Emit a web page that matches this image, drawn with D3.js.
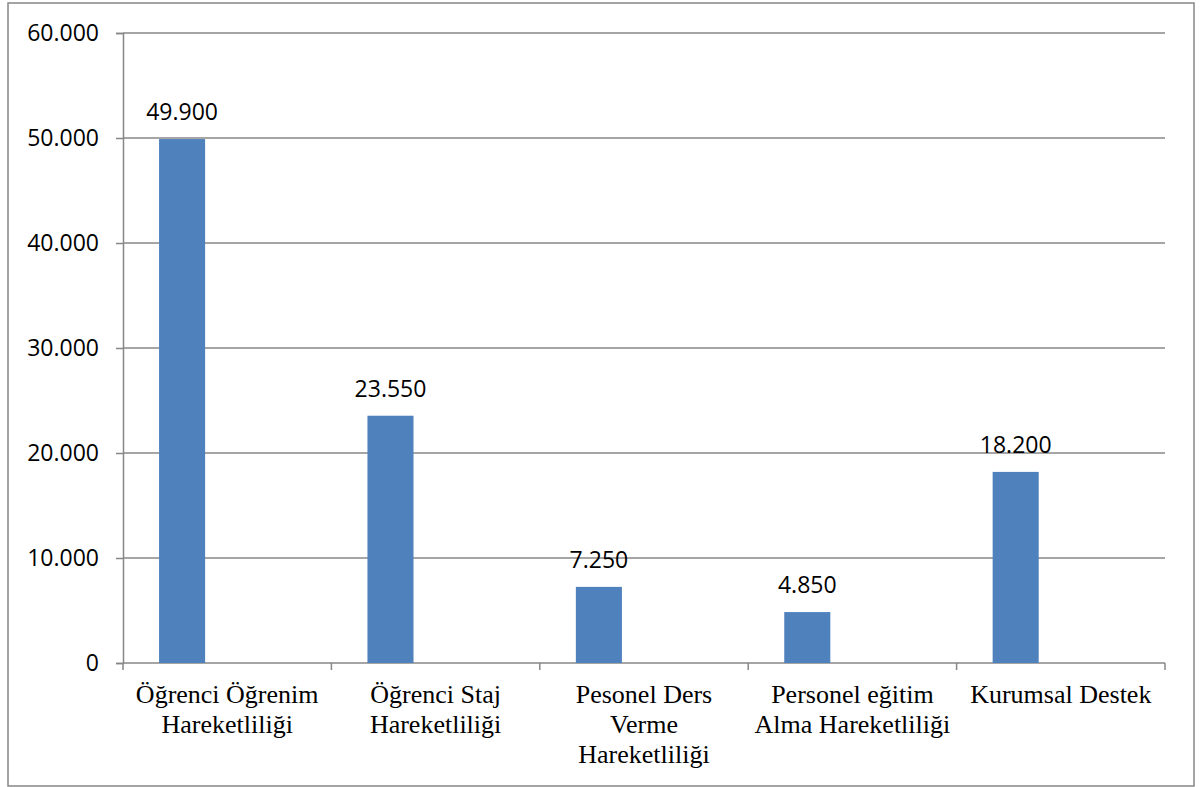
<!DOCTYPE html>
<html>
<head>
<meta charset="utf-8">
<script src="https://cdn.jsdelivr.net/npm/d3@7"></script>
<style>
  body { margin: 0; background: #fff; }
</style>
</head>
<body>
<div id="chart"></div>
<script>
// kategoriler ve değerler
const categories = [
  'Öğrenci Öğrenim Hareketliliği',
  'Öğrenci Staj Hareketliliği',
  'Pesonel Ders Verme Hareketliliği',
  'Personel eğitim Alma Hareketliliği',
  'Kurumsal Destek'
]
const values = [49900, 23550, 7250, 4850, 18200]
const yTicks = [0, 10000, 20000, 30000, 40000, 50000, 60000]

const width = 1200
const height = 787
const margin = { top: 33, right: 35, bottom: 124, left: 123 }

const svg = d3.select('#chart').append('svg')
  .attr('width', width)
  .attr('height', height)

// dış çerçeve
svg.append('rect')
  .attr('x', 8).attr('y', 3)
  .attr('width', 1186).attr('height', 783)
  .attr('fill', 'none')
  .attr('stroke', '#878787')
  .attr('stroke-width', 1.5)

const x = d3.scaleBand()
  .domain(categories)
  .range([margin.left, width - margin.right])
  .padding(0)

const y = d3.scaleLinear()
  .domain([0, 60000])
  .range([height - margin.bottom, margin.top])

// Türkçe sayı biçimi (binlik ayırıcı nokta)
const fmt = d3.formatLocale({ decimal: ',', thousands: '.', grouping: [3], currency: ['', ' TL'] }).format(',')

// yatay ızgara çizgileri + y ekseni
const yAxis = svg.append('g')
  .attr('transform', `translate(${margin.left},0)`)
  .call(d3.axisLeft(y).tickValues(yTicks).tickFormat(d => d === 0 ? '0' : fmt(d))
    .tickSize(7).tickPadding(17))
yAxis.select('.domain').attr('stroke', '#878787').attr('stroke-width', 1.5)
yAxis.selectAll('.tick line').attr('stroke', '#878787').attr('stroke-width', 1.5)
yAxis.selectAll('.tick text')
  .attr('font-family', '"Open Sans", sans-serif')
  .attr('font-size', '23px')
  .attr('fill', '#000')

svg.append('g').selectAll('line')
  .data(yTicks.filter(d => d > 0))
  .enter().append('line')
  .attr('x1', margin.left)
  .attr('x2', width - margin.right)
  .attr('y1', d => y(d))
  .attr('y2', d => y(d))
  .attr('stroke', '#878787')
  .attr('stroke-width', 1.5)

// x ekseni
const xAxis = svg.append('g')
  .attr('transform', `translate(0,${y(0)})`)
xAxis.append('line')
  .attr('x1', margin.left).attr('x2', width - margin.right)
  .attr('stroke', '#878787').attr('stroke-width', 1.5)
const tickXs = categories.map(c => x(c)).concat([width - margin.right])
xAxis.selectAll('line.tk').data(tickXs).enter().append('line')
  .attr('class', 'tk')
  .attr('x1', d => d).attr('x2', d => d)
  .attr('y1', 0).attr('y2', 7)
  .attr('stroke', '#878787').attr('stroke-width', 1.5)

// sütunlar (Excel gibi bandın sol kısmında)
const barOffset = x.bandwidth() * 0.173
const barWidth = x.bandwidth() * 0.221

svg.append('g').selectAll('rect')
  .data(values)
  .enter().append('rect')
  .attr('x', (d, i) => x(categories[i]) + barOffset)
  .attr('y', d => y(d))
  .attr('width', barWidth)
  .attr('height', d => y(0) - y(d))
  .attr('fill', '#4F81BD')

// değer etiketleri
svg.append('g').selectAll('text')
  .data(values)
  .enter().append('text')
  .attr('x', (d, i) => x(categories[i]) + barOffset + barWidth / 2)
  .attr('y', d => y(d) - 19)
  .attr('text-anchor', 'middle')
  .attr('font-family', '"Open Sans", sans-serif')
  .attr('font-size', '23px')
  .attr('fill', '#000')
  .text(d => fmt(d))

// kategori etiketleri, bant genişliğine göre satırlara bölünür
const labels = svg.append('g').selectAll('text')
  .data(categories)
  .enter().append('text')
  .attr('x', d => x(d) + x.bandwidth() / 2)
  .attr('y', y(0) + 40)
  .attr('text-anchor', 'middle')
  .attr('font-family', '"Liberation Serif", "Times New Roman", serif')
  .attr('font-size', '26px')
  .attr('fill', '#000')

labels.each(function (d) {
  const text = d3.select(this)
  const words = d.split(' ')
  const cx = x(d) + x.bandwidth() / 2
  const maxW = x.bandwidth() - 4
  let line = []
  let lineNo = 0
  let tspan = text.append('tspan').attr('x', cx).attr('dy', 0)
  words.forEach(w => {
    line.push(w)
    tspan.text(line.join(' '))
    if (tspan.node().getComputedTextLength() > maxW && line.length > 1) {
      line.pop()
      tspan.text(line.join(' '))
      line = [w]
      lineNo++
      tspan = text.append('tspan').attr('x', cx).attr('dy', 30).text(w)
    }
  })
})
</script>
</body>
</html>
